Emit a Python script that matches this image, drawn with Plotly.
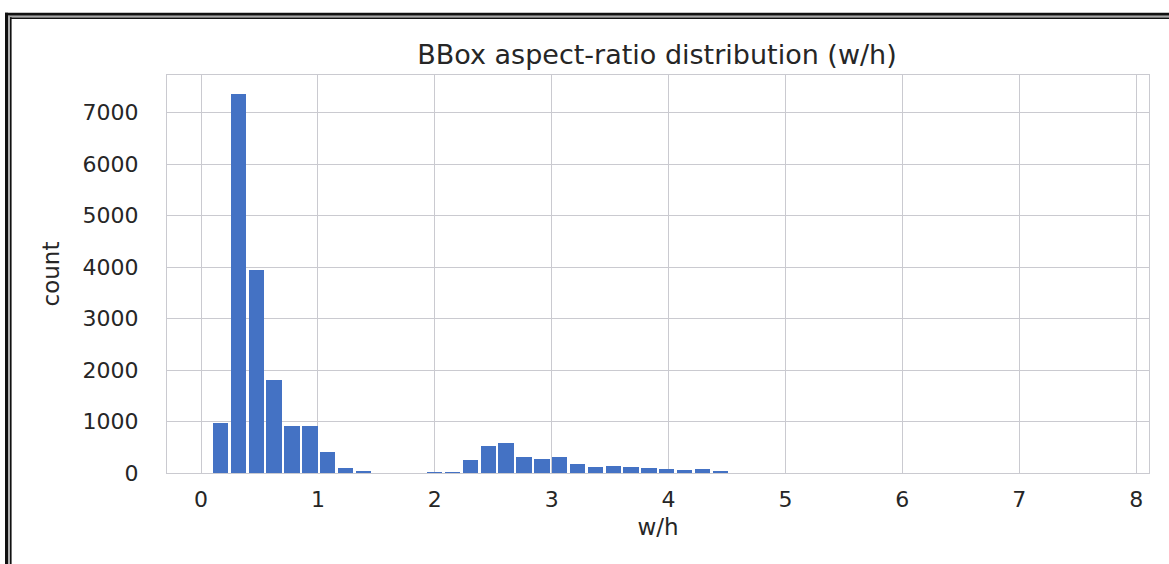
import plotly.graph_objects as go

# Histogram of bounding-box aspect ratios (width / height), 50 equal bins
bin_start = 0.091
bin_width = 0.1527
counts = [
    980, 7362, 3943, 1797, 908, 908, 409, 105, 22, 0,
    0, 0, 15, 18, 247, 533, 591, 319, 272, 305,
    183, 124, 136, 111, 91, 78, 53, 72, 20, 0,
    0, 0, 0, 0, 0, 0, 0, 0, 0, 0,
    0, 0, 0, 0, 0, 0, 0, 0, 0, 0,
]
x_ticks = [0, 1, 2, 3, 4, 5, 6, 7, 8]
y_ticks = [0, 1000, 2000, 3000, 4000, 5000, 6000, 7000]

centers = [bin_start + bin_width * (i + 0.5) for i in range(len(counts))]

W, H = 1169, 564
L, R, T, B = 167, 20, 75, 91
PW, PH = W - L - R, H - T - B

FONT = "DejaVu Sans"
TXT = "#262626"
GRID = "#cacad0"
BAR = "#4472c4"

fig = go.Figure(
    go.Bar(
        x=centers,
        y=counts,
        width=bin_width * 0.86,
        marker=dict(color=BAR, line=dict(width=0)),
        hoverinfo="x+y",
    )
)


def px_x(p):
    return (p - L) / PW


def px_y(p):
    return (H - B - p) / PH


# double picture frame around the figure
shapes = []
def hline(py, x0, w, c):
    shapes.append(dict(type="line", xref="paper", yref="paper",
                       x0=px_x(x0), x1=px_x(W + 20), y0=px_y(py), y1=px_y(py),
                       line=dict(color=c, width=w), layer="above"))

def vline(px, y0, w, c):
    shapes.append(dict(type="line", xref="paper", yref="paper",
                       x0=px_x(px), x1=px_x(px), y0=px_y(y0), y1=px_y(H + 20),
                       line=dict(color=c, width=w), layer="above"))

hline(14.2, 5, 3, "#111111")
vline(6.5, 12.7, 3, "#111111")
hline(16.6, 8, 1.8, "#a8a8a8")
vline(9.0, 15.7, 1.8, "#a8a8a8")
hline(18.2, 10, 1.6, "#111111")
vline(10.8, 17.3, 1.6, "#111111")

fig.update_layout(
    width=W,
    height=H,
    margin=dict(l=L, r=R, t=T, b=B, pad=0),
    paper_bgcolor="white",
    plot_bgcolor="white",
    showlegend=False,
    bargap=0,
    font=dict(family=FONT, color=TXT, size=22),
    title=dict(
        text="BBox aspect-ratio distribution (w/h)",
        x=657 / W,
        xanchor="center",
        xref="container",
        y=1 - 55 / H,
        yanchor="middle",
        yref="container",
        font=dict(family=FONT, size=27, color=TXT),
    ),
    xaxis=dict(
        range=[-0.291, 8.11],
        tickvals=x_ticks,
        ticktext=[str(v) for v in x_ticks],
        showgrid=True,
        gridcolor=GRID,
        gridwidth=1.3,
        zeroline=False,
        showline=True,
        linecolor=GRID,
        linewidth=1.3,
        mirror=True,
        ticks="",
        ticklabelstandoff=6,
        tickfont=dict(family=FONT, size=22, color=TXT),
        title=dict(text="w/h", standoff=8,
                   font=dict(family=FONT, size=23, color=TXT)),
    ),
    yaxis=dict(
        range=[0, 7730],
        tickvals=y_ticks,
        ticktext=[str(v) for v in y_ticks],
        showgrid=True,
        gridcolor=GRID,
        gridwidth=1.3,
        zeroline=False,
        showline=True,
        linecolor=GRID,
        linewidth=1.3,
        mirror=True,
        ticks="",
        ticklabelstandoff=23,
        tickfont=dict(family=FONT, size=22, color=TXT),
        title=dict(text="count", standoff=16,
                   font=dict(family=FONT, size=23, color=TXT)),
    ),
    shapes=shapes,
)

fig.write_html("out.html")
